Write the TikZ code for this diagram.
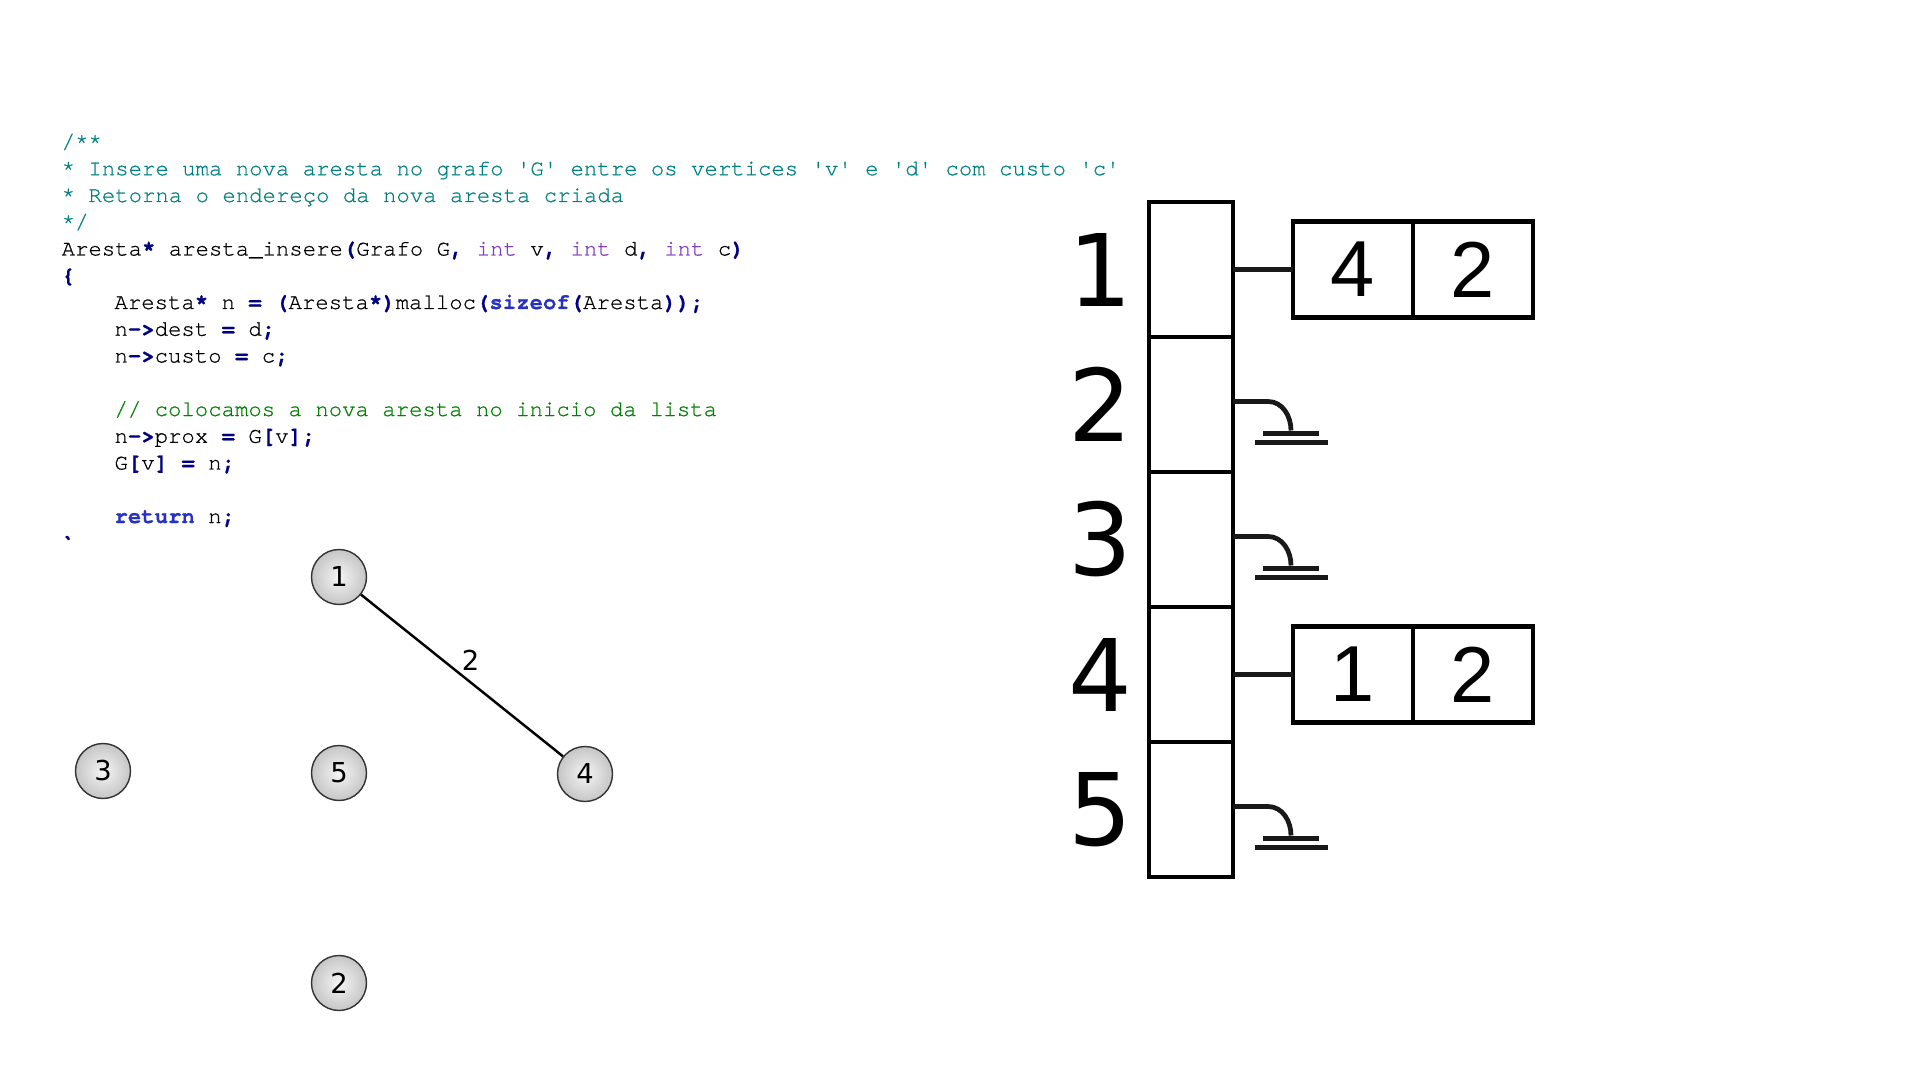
\documentclass[tikz,border=0pt]{standalone}
\usepackage{fontspec}
\usetikzlibrary{positioning}
\newfontfamily\codefont[FakeBold=0.7]{TeX Gyre Cursor}
\newfontfamily\dejavu{DejaVu Sans}
\newfontfamily\arial{Liberation Sans}
\definecolor{cdoc}{RGB}{0,128,128}
\definecolor{ccmt}{RGB}{0,128,0}
\definecolor{cop}{RGB}{0,0,128}
\definecolor{cty}{RGB}{130,60,190}
\definecolor{ckw}{RGB}{40,50,190}
\newcommand{\codeop}[1]{\textcolor{cop}{\bfseries #1}}
\newcommand{\codety}[1]{\textcolor{cty}{#1}}
\newcommand{\codekw}[1]{\textcolor{ckw}{\bfseries #1}}

\begin{document}
\begin{tikzpicture}[
  code/.style={anchor=base west, inner sep=0pt, font=\codefont\fontsize{6.35}{7.5}\selectfont},
  vert/.style={draw=gray!40!black, circle, minimum size=0.55cm, inner sep=0pt, shade, shading=radial, inner color=gray!8, outer color=gray!45, font=\dejavu\fontsize{7.8}{9}\selectfont},
  cell/.style={draw, line width=1.35pt, minimum width=0.84cm, minimum height=1.35cm, inner sep=0pt, outer sep=0pt},
  fld/.style={draw, line width=1.35pt, minimum width=1.2cm, minimum height=0.96cm, inner sep=0pt, outer sep=0pt, font=\arial\fontsize{22.6}{26}\selectfont},
  rowlab/.style={font=\dejavu\fontsize{28.5}{32}\selectfont, inner sep=0pt},
  lst/.style={line width=1.35pt, draw=black!90}
]
\useasboundingbox (0,0) rectangle (19.2,-10.8);

% codigo
\node[code] (k0) at (0.61,-1.485) {\textcolor{cdoc}{/**}};
\node[code] (k1) at (0.61,-1.7525) {\textcolor{cdoc}{* Insere uma nova aresta no grafo 'G' entre os vertices 'v' e 'd' com custo 'c'}};
\node[code] (k2) at (0.61,-2.02) {\textcolor{cdoc}{* Retorna o endereço da nova aresta criada}};
\node[code] (k3) at (0.61,-2.2875) {\textcolor{cdoc}{*/}};
\node[code] (k4) at (0.61,-2.555) {Aresta\codeop{*} aresta\_insere\codeop{(}Grafo G\codeop{,} \codety{int} v\codeop{,} \codety{int} d\codeop{,} \codety{int} c\codeop{)}};
\node[code] (k5) at (0.61,-2.8225) {\codeop{\{}};
\node[code] (k6) at (1.138,-3.09) {Aresta\codeop{*} n \codeop{=} \codeop{(}Aresta\codeop{*)}malloc\codeop{(}\codekw{sizeof}\codeop{(}Aresta\codeop{));}};
\node[code] (k7) at (1.138,-3.3575) {n\codeop{->}dest \codeop{=} d\codeop{;}};
\node[code] (k8) at (1.138,-3.625) {n\codeop{->}custo \codeop{=} c\codeop{;}};
\node[code] (k10) at (1.138,-4.16) {\textcolor{ccmt}{// colocamos a nova aresta no inicio da lista}};
\node[code] (k11) at (1.138,-4.4275) {n\codeop{->}prox \codeop{=} G\codeop{[}v\codeop{];}};
\node[code] (k12) at (1.138,-4.695) {G\codeop{[}v\codeop{]} \codeop{=} n\codeop{;}};
\node[code] (k14) at (1.138,-5.23) {\codekw{return} n\codeop{;}};
\begin{scope}
  \clip (0.5,-5.2) rectangle (1.0,-5.39);
  \node[code] (k15) at (0.61,-5.4975) {\codeop{\}}};
\end{scope}

% grafo
\node[vert] (v1) at (3.39,-5.77) {1};
\node[vert] (v3) at (1.03,-7.71) {3};
\node[vert] (v5) at (3.39,-7.73) {5};
\node[vert] (v4) at (5.85,-7.74) {4};
\node[vert] (v2) at (3.39,-9.83) {2};
\draw[line width=0.7pt] (v1) -- node[anchor=south west, inner sep=1pt, xshift=-0.05cm, font=\dejavu\fontsize{7.8}{9}\selectfont] (e14) {2} (v4);

% lista de adjacencia
\foreach \i in {1,...,5} {
  \node[cell] (c\i) at (11.91,{-2.695-1.35*(\i-1)}) {};
  \node[rowlab] (r\i) at (11.0,{-2.695-1.35*(\i-1)}) {\i};
}
\node[fld, right=0.6cm of c1] (d1) {4};
\node[fld, right=0pt of d1] (w1) {2};
\draw[lst] (c1.east) -- (d1.west);
\node[fld, right=0.6cm of c4] (d4) {1};
\node[fld, right=0pt of d4] (w4) {2};
\draw[lst] (c4.east) -- (d4.west);
\foreach \r in {2,3,5} {
  \coordinate (s\r) at ([yshift=0.3mm]c\r.east);
  \draw[lst] (s\r) -- ++(0.35,0) to[out=0,in=90] ++(0.23,-0.29);
  \draw[lst] ([xshift=3mm,yshift=-3.2mm]s\r) -- ++(0.56,0);
  \draw[lst] ([xshift=2.2mm,yshift=-4.1mm]s\r) -- ++(0.73,0);
}
\end{tikzpicture}
\end{document}
